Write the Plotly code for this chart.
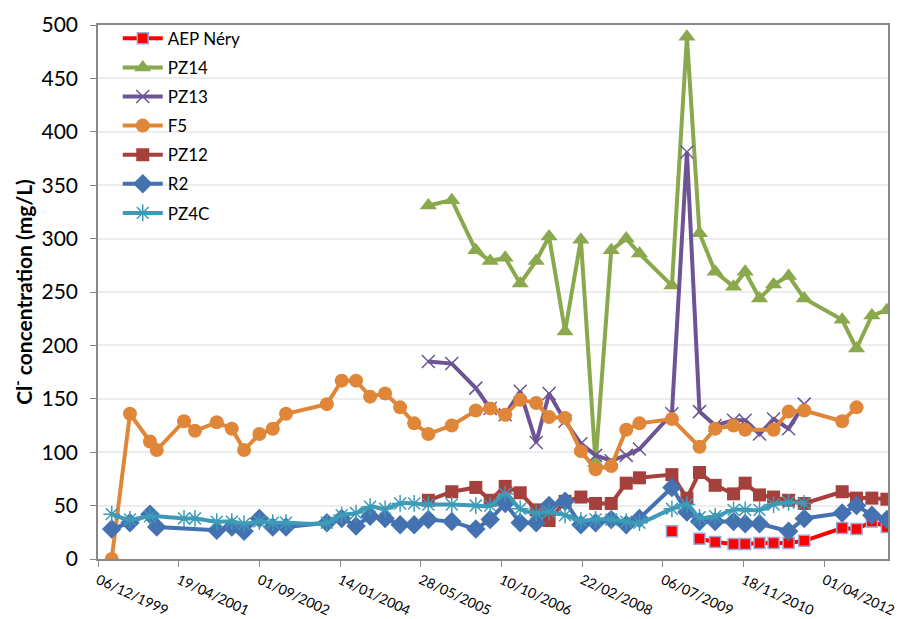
import plotly.graph_objects as go

# sampling dates and Cl- concentrations (mg/L)
aep_dates = ["2009-08-31", None, "2010-02-18", "2010-05-26", "2010-09-17", "2010-11-28",
             "2011-02-25", "2011-05-23", "2011-08-24", "2011-11-29", "2012-07-21",
             "2012-10-18", "2013-01-21", "2013-04-24"]
aep_values = [26, None, 19, 16, 14, 14, 15, 15, 15, 17, 29, 28, 35, 30]

pz14_dates = ["2005-07-14", "2005-12-06", "2006-05-04", "2006-08-01", "2006-11-02",
              "2007-02-03", "2007-05-13", "2007-08-01", "2007-11-08", "2008-02-14",
              "2008-05-15", "2008-08-20", "2008-11-21", "2009-02-11", "2009-08-31",
              "2009-12-02", "2010-02-18", "2010-05-26", "2010-09-17", "2010-11-28",
              "2011-02-25", "2011-05-23", "2011-08-24", "2011-11-29", "2012-07-21",
              "2012-10-18", "2013-01-21", "2013-04-24"]
pz14_values = [331, 336, 289, 279, 282, 258, 279, 302, 213, 299, 90, 289, 300, 286,
               256, 489, 305, 269, 255, 269, 244, 257, 265, 244, 224, 197, 228, 233]

pz13_dates = ["2005-07-14", "2005-12-06", "2006-05-04", "2006-08-01", "2006-11-02",
              "2007-02-03", "2007-05-13", "2007-08-01", "2007-11-08", "2008-02-14",
              "2008-05-15", "2008-08-20", "2008-11-21", "2009-02-11", "2009-08-31",
              "2009-12-02", "2010-02-18", "2010-05-26", "2010-09-17", "2010-11-28",
              "2011-02-25", "2011-05-23", "2011-08-24", "2011-11-29"]
pz13_values = [185, 183, 160, 141, 135, 157, 109, 155, 129, 108, 97, 92, 97, 103,
               136, 381, 138, 125, 130, 130, 117, 131, 122, 145]

f5_dates = ["2000-02-29", "2000-06-21", "2000-10-23", "2000-12-04", "2001-05-22",
            "2001-07-29", "2001-12-11", "2002-03-14", "2002-05-29", "2002-09-01",
            "2002-11-23", "2003-02-13", "2003-10-24", "2004-01-24", "2004-04-22",
            "2004-07-18", "2004-10-19", "2005-01-20", "2005-04-17", "2005-07-14",
            "2005-12-06", "2006-05-04", "2006-08-01", "2006-11-02", "2007-02-03",
            "2007-05-13", "2007-08-01", "2007-11-08", "2008-02-14", "2008-05-15",
            "2008-08-20", "2008-11-21", "2009-02-11", "2009-08-31", "2010-02-18",
            "2010-05-26", "2010-09-17", "2010-11-28", "2011-05-23", "2011-08-24",
            "2011-11-29", "2012-07-21", "2012-10-18"]
f5_values = [0, 136, 110, 102, 129, 120, 128, 122, 102, 117, 122, 136, 145, 167, 167,
             152, 155, 142, 127, 117, 125, 139, 141, 135, 149, 146, 133, 132, 101, 84,
             87, 121, 127, 131, 105, 122, 125, 121, 121, 138, 139, 129, 142]

pz12_dates = ["2005-07-14", "2005-12-06", "2006-05-04", "2006-08-01", "2006-11-02",
              "2007-02-03", "2007-05-13", "2007-08-01", "2007-11-08", "2008-02-14",
              "2008-05-15", "2008-08-20", "2008-11-21", "2009-02-11", "2009-08-31",
              "2009-12-02", "2010-02-18", "2010-05-26", "2010-09-17", "2010-11-28",
              "2011-02-25", "2011-05-23", "2011-08-24", "2011-11-29", "2012-07-21",
              "2012-10-18", "2013-01-21", "2013-04-24"]
pz12_values = [55, 63, 67, 55, 68, 62, 46, 36, 54, 58, 52, 52, 71, 76, 79, 57, 81,
               69, 61, 71, 60, 58, 55, 52, 63, 57, 57, 56]

r2_dates = ["2000-02-29", "2000-06-21", "2000-10-23", "2000-12-04", "2001-12-11",
            "2002-03-14", "2002-05-29", "2002-09-01", "2002-11-23", "2003-02-13",
            "2003-10-24", "2004-01-24", "2004-04-22", "2004-07-18", "2004-10-19",
            "2005-01-20", "2005-04-17", "2005-07-14", "2005-12-06", "2006-05-04",
            "2006-08-01", "2006-11-02", "2007-02-03", "2007-05-13", "2007-08-01",
            "2007-11-08", "2008-02-14", "2008-05-15", "2008-08-20", "2008-11-21",
            "2009-02-11", "2009-08-31", "2009-12-02", "2010-02-18", "2010-05-26",
            "2010-09-17", "2010-11-28", "2011-02-25", "2011-08-24", "2011-11-29",
            "2012-07-21", "2012-10-18", "2013-01-21", "2013-04-24"]
r2_values = [28, 34, 42, 30, 27, 30, 26, 38, 30, 30, 34, 38, 31, 40, 38, 32, 32, 37,
             35, 28, 37, 52, 34, 34, 50, 54, 32, 34, 37, 32, 38, 67, 44, 35, 35, 35,
             33, 33, 26, 38, 43, 50, 41, 37]

pz4c_dates = ["2000-02-29", "2000-06-21", "2000-10-23", "2001-05-22", "2001-07-29",
              "2001-12-11", "2002-03-14", "2002-05-29", "2002-09-01", "2002-11-23",
              "2003-02-13", "2003-10-24", "2004-01-24", "2004-04-22", "2004-07-18",
              "2004-10-19", "2005-01-20", "2005-04-17", "2005-07-14", "2005-12-06",
              "2006-05-04", "2006-08-01", "2006-11-02", "2007-02-03", "2007-05-13",
              "2007-08-01", "2007-11-08", "2008-02-14", "2008-05-15", "2008-08-20",
              "2008-11-21", "2009-02-11", "2009-08-31", "2009-12-02", "2010-02-18",
              "2010-05-26", "2010-09-17", "2010-11-28", "2011-02-25", "2011-05-23",
              "2011-08-24", "2011-11-29"]
pz4c_values = [42, 37, 40, 38, 38, 35, 35, 33, 35, 34, 34, 34, 41, 43, 49, 47, 52,
               52, 51, 51, 50, 50, 61, 47, 43, 44, 41, 36, 37, 37, 35, 34, 47, 51,
               39, 40, 46, 46, 46, 51, 53, 52]

FONT = "Lato"

series = [
    ("AEP Néry", aep_dates, aep_values, "#FF0000", dict(symbol="square", size=11, color="#FF0000", line=dict(color="#9CA6D6", width=1.5)), "linear"),
    ("PZ14", pz14_dates, pz14_values, "#8AA84C", dict(symbol="triangle-up", size=15, color="#8AA84C"), "linear"),
    ("PZ13", pz13_dates, pz13_values, "#6C5495", dict(symbol="x-thin-open", size=13, line=dict(color="#6C5495", width=1.5)), "linear"),
    ("F5", f5_dates, f5_values, "#E08638", dict(symbol="circle", size=14, color="#E08638"), "linear"),
    ("PZ12", pz12_dates, pz12_values, "#A6403D", dict(symbol="square", size=13, color="#A6403D"), "linear"),
    ("R2", r2_dates, r2_values, "#4472B0", dict(symbol="diamond", size=15, color="#4472B0"), "linear"),
    ("PZ4C", pz4c_dates, pz4c_values, "#3D9BB8", dict(symbol="asterisk-open", size=14, line=dict(color="#3D9BB8", width=1.5)), "spline"),
]

fig = go.Figure()
for name, dates, values, color, marker, shape in series:
    fig.add_trace(
        go.Scatter(
            x=dates,
            y=values,
            name=name,
            mode="lines+markers",
            line=dict(color=color, width=4, shape=shape),
            marker=marker,
            connectgaps=False,
            legendgroup=name,
        )
    )

# the page body adds an 8px offset, so the figure is sized to fit the window
fig.update_layout(
    width=896,
    height=611,
    margin=dict(l=90, r=16, t=17, b=60, autoexpand=False),
    plot_bgcolor="white",
    paper_bgcolor="white",
    font=dict(family=FONT, color="#000000"),
    showlegend=True,
    legend=dict(
        x=0.025,
        y=1.008,
        xanchor="left",
        yanchor="top",
        bgcolor="rgba(255,255,255,0)",
        font=dict(size=17, family=FONT),
        tracegroupgap=4,
        itemwidth=40,
    ),
    xaxis=dict(
        type="date",
        range=["1999-12-06", "2013-05-01"],
        tick0="1999-12-06",
        dtick=500 * 86400000,
        tickformat="%d/%m/%Y",
        tickangle=25,
        tickfont=dict(size=14, family=FONT),
        ticks="outside",
        ticklen=6,
        tickcolor="#888888",
        showgrid=False,
        showline=True,
        linecolor="#888888",
        linewidth=1.5,
        mirror=True,
        zeroline=False,
    ),
    yaxis=dict(
        range=[0, 500],
        dtick=50,
        tickfont=dict(size=21, family=FONT),
        ticks="outside",
        ticklen=6,
        tickcolor="#888888",
        ticklabelstandoff=8,
        showgrid=True,
        gridcolor="#EDEDED",
        gridwidth=1.5,
        showline=True,
        linecolor="#888888",
        linewidth=1.5,
        mirror=True,
        zeroline=False,
        title=dict(
            text="<b>Cl<sup>-</sup> concentration (mg/L)</b>",
            font=dict(size=21, family=FONT),
            standoff=6,
        ),
    ),
)

fig.write_html("out.html")
